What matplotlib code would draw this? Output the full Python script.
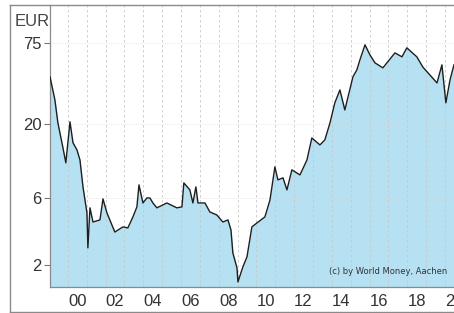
import numpy as np
import matplotlib.pyplot as plt
from matplotlib.lines import Line2D

# price history (EUR)
years = [1999.05, 1999.31, 1999.47, 1999.73, 1999.89, 2000.11, 2000.27, 2000.48,
         2000.64, 2000.80, 2001.01, 2001.06, 2001.17, 2001.33, 2001.70, 2001.86,
         2002.07, 2002.49, 2002.92, 2003.18, 2003.45, 2003.66, 2003.77, 2003.98,
         2004.19, 2004.35, 2004.51, 2004.72, 2005.25, 2005.78, 2006.05, 2006.15,
         2006.47, 2006.63, 2006.79, 2006.90, 2007.27, 2007.53, 2007.90, 2008.22,
         2008.49, 2008.65, 2008.75, 2008.97, 2009.02, 2009.28, 2009.50, 2009.76,
         2010.03, 2010.45, 2010.72, 2010.98, 2011.14, 2011.41, 2011.62, 2011.88,
         2012.31, 2012.68, 2012.94, 2013.37, 2013.63, 2013.90, 2014.16, 2014.43,
         2014.69, 2015.12, 2015.33, 2015.49, 2015.76, 2016.02, 2016.29, 2016.71,
         2017.35, 2017.72, 2017.98, 2018.51, 2018.83, 2019.58, 2019.84, 2020.05,
         2020.27, 2020.48]
prices = [43.1, 29.6, 20.3, 13.7, 10.6, 20.7, 14.7, 13.1,
          11.1, 7.16, 4.69, 2.65, 5.09, 4.04, 4.18, 5.89,
          4.69, 3.43, 3.73, 3.67, 4.39, 5.17, 7.40, 5.51,
          5.98, 5.98, 5.51, 5.09, 5.51, 5.09, 5.17, 7.64,
          6.82, 5.51, 7.16, 5.51, 5.51, 4.76, 4.53, 4.04,
          4.18, 3.55, 2.44, 1.91, 1.52, 1.94, 2.29, 3.73,
          3.98, 4.39, 5.79, 9.92, 8.03, 8.30, 6.82, 9.45,
          8.71, 11.1, 15.9, 14.2, 15.4, 20.3, 28.2, 34.8,
          25.1, 43.1, 48.3, 56.8, 72.6, 61.7, 54.1, 49.9,
          63.7, 59.7, 69.1, 59.7, 50.5, 39.0, 52.4, 28.2,
          41.0, 52.4]

ytick_vals = [2, 6, 20, 75]
xtick_labels = ["00", "02", "04", "06", "08", "10", "12", "14", "16", "18", "20"]
xtick_years = [2000, 2002, 2004, 2006, 2008, 2010, 2012, 2014, 2016, 2018, 2020]

plt.rcParams['font.family'] = ['Liberation Sans', 'DejaVu Sans']

fig = plt.figure(figsize=(4.54, 3.13), dpi=100)
W, H = 454, 313
ax = fig.add_axes([50 / W, (H - 287) / H, 420 / W, 282 / H])

ax.fill_between(years, prices, 1.0, color="#b5e1f3", lw=0, zorder=1)
ax.plot(years, prices, color="#1e1e1e", lw=1.0, zorder=3)

ax.set_yscale("log")
ax.set_ylim(1.40, 139)
ax.set_xlim(1999.05, 2021.33)

# yearly dashed gridlines over the fill
for yr in range(2000, 2022):
    ax.axvline(yr, color="#c8c8c8", lw=0.6, ls=(0, (3, 3)), zorder=2)
for v in ytick_vals:
    ax.axhline(v, color="#d4d4d4", lw=0.5, ls=(0, (1, 2)), zorder=2)

ax.set_yticks(ytick_vals)
ax.set_yticklabels([str(v) for v in ytick_vals])
ax.yaxis.set_minor_locator(plt.NullLocator())
ax.tick_params(axis="y", length=4, width=0.8, color="#777777", pad=2,
               labelsize=12, labelcolor="#333333")

ax.set_xticks([y + 0.5 for y in xtick_years])
ax.set_xticklabels(xtick_labels)
ax.tick_params(axis="x", length=0, pad=5, labelsize=12, labelcolor="#333333")

for side in ["top", "right"]:
    ax.spines[side].set_visible(False)
for side in ["left", "bottom"]:
    ax.spines[side].set_color("#8a8a8a")
    ax.spines[side].set_linewidth(0.9)

fig.text(447 / W, (H - 272) / H, "(c) by World Money, Aachen",
         ha="right", va="center", fontsize=6, family="DejaVu Sans", color="#333333")
fig.text(32 / W, (H - 22) / H, "EUR", ha="center", va="center", fontsize=12,
         color="#444444")

# outer frame
fig.add_artist(Line2D([10 / W, 10 / W], [(H - 312) / H, (H - 5) / H],
                      transform=fig.transFigure, color="#8a8a8a", lw=1))
fig.add_artist(Line2D([10 / W, 1], [(H - 5) / H, (H - 5) / H],
                      transform=fig.transFigure, color="#8a8a8a", lw=1))
fig.add_artist(Line2D([10 / W, 1], [(H - 312) / H, (H - 312) / H],
                      transform=fig.transFigure, color="#8a8a8a", lw=1))

fig.savefig("out.png", dpi=100)
